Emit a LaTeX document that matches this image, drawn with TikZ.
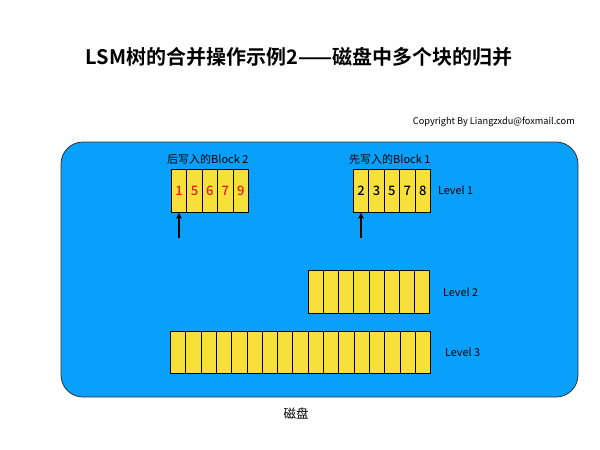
\documentclass[tikz,border=0pt]{standalone}
\usepackage{fontspec}
\usetikzlibrary{arrows.meta}
\setmainfont{Noto Sans CJK SC}[BoldFont={Noto Sans CJK SC Bold}]
\newfontfamily\medfont{Noto Sans CJK SC Medium}
\definecolor{disk}{RGB}{8,160,250}
\definecolor{cellyel}{RGB}{248,224,58}
\definecolor{numred}{RGB}{225,30,30}
\tikzset{
  cellbox/.style={draw=black, line width=0.9pt, fill=cellyel, minimum width=15.4pt, minimum height=43pt, inner sep=0pt, anchor=north west, font=\medfont\fontsize{13}{14}\selectfont},
  lbl/.style={font=\fontsize{11}{13}\selectfont, inner sep=0pt},
  lvl/.style={font=\fontsize{10.8}{12}\selectfont, inner sep=0pt, anchor=west},
  arr/.style={-{Stealth[length=6pt,width=6pt]}, line width=1.3pt}
}
\begin{document}
\begin{tikzpicture}[x=1pt,y=-1pt]
\useasboundingbox (0,0) rectangle (600,450);
\fill[white] (0,0) rectangle (600,450);
\node[font=\bfseries\fontsize{20}{24}\selectfont, inner sep=0pt] (title) at (299,57) {LSM树的合并操作示例2——磁盘中多个块的归并};
\node[font=\fontsize{9.2}{11}\selectfont, inner sep=0pt, anchor=east] (copy) at (575,122) {Copyright By Liangzxdu@foxmail.com};
\draw[fill=disk, draw=black!80, line width=0.8pt, rounded corners=22pt] (61,142) rectangle (578,397);
\node[lbl, font=\fontsize{12.5}{14}\selectfont] (disklbl) at (296,414) {磁盘};
% Block 2
\foreach \n [count=\i from 0] in {1,5,6,7,9} {
  \node[cellbox, text=numred] (b2c\i) at (171+\i*15.4,169) {\n};
}
\node[lbl, anchor=south west] (b2l) at (167,165) {后写入的Block 2};
% Block 1
\foreach \n [count=\i from 0] in {2,3,5,7,8} {
  \node[cellbox] (b1c\i) at (353+\i*15.4,169) {\n};
}
\node[lbl, anchor=south west] (b1l) at (349,165) {先写入的Block 1};
\node[lvl] (lv1) at (438,190) {Level 1};
\coordinate (a2) at (179,238);
\coordinate (a1) at (361,238);
\draw[arr] (a2) -- (b2c0.south west -| a2);
\draw[arr] (a1) -- (b1c0.south west -| a1);
% Level 2
\foreach \i in {0,...,7} {
  \node[cellbox, minimum width=15.125pt] (l2c\i) at (308+\i*15.125,270) {};
}
\node[lvl] (lv2) at (443,292) {Level 2};
% Level 3
\foreach \i in {0,...,16} {
  \node[cellbox, minimum width=15.3pt, minimum height=42pt] (l3c\i) at (170+\i*15.3,331) {};
}
\node[lvl] (lv3) at (445,352) {Level 3};
\end{tikzpicture}
\end{document}
